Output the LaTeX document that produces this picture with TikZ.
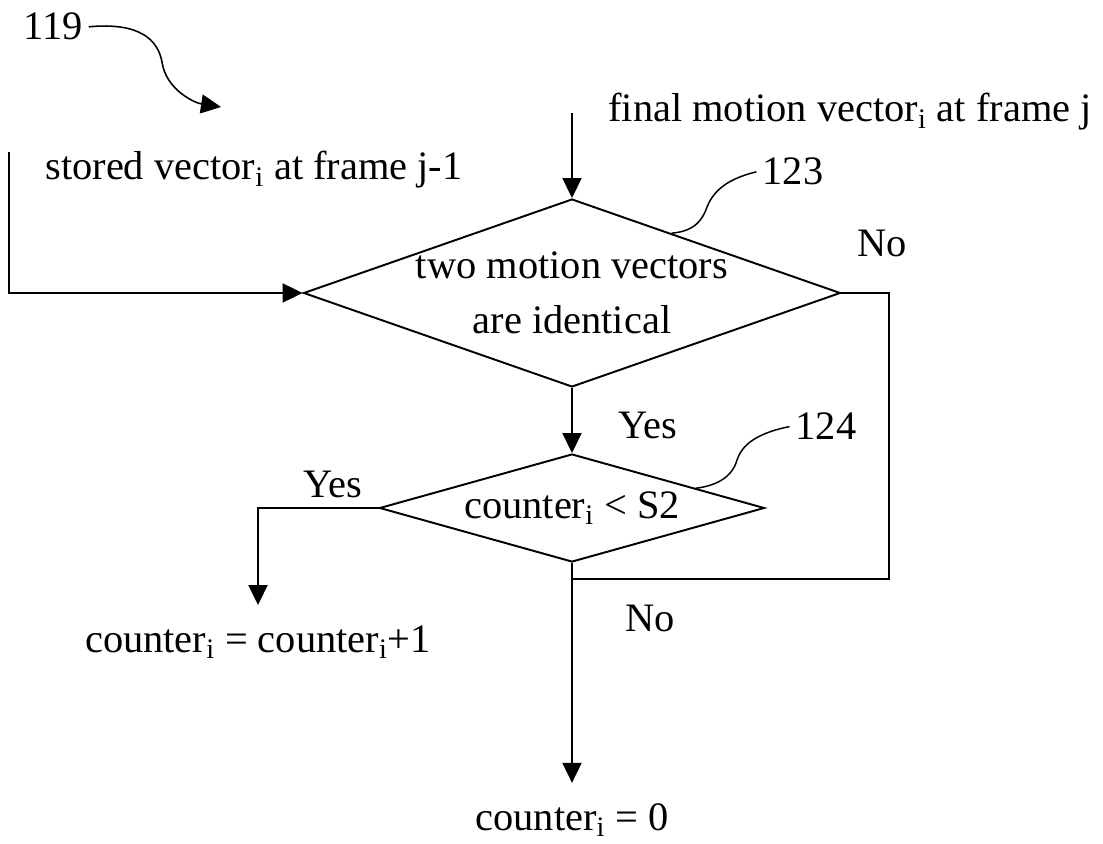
\documentclass[tikz,border=0pt]{standalone}
\usepackage{fontspec}
\setmainfont{Liberation Serif}
\usetikzlibrary{shapes.geometric,
                arrows.meta,
                calc,
                positioning}
\tikzset{decision/.style={draw,diamond,inner sep=0pt,line width=1.1pt},
         flow/.style={draw,line width=1.1pt,-{Triangle[length=0.4cm,width=0.38cm]}},
         link/.style={draw,line width=1.1pt},
         leader/.style={draw,line width=0.85pt},
         txt/.style={anchor=base}}

\begin{document}
\begin{tikzpicture}[x=0.02cm,y=-0.02cm,font=\fontsize{23}{31}\selectfont]
 \useasboundingbox (0,0) rectangle (1103,844);
 % decisions
 \node[decision,minimum width=10.74cm,minimum height=3.76cm,
       label={[align=center]center:two motion vectors\\are identical}] (same) at (572,293) {};
 \node[decision,minimum width=7.7cm,minimum height=2.16cm,
       label={center:counter\textsubscript{i} < S2}] (limit) at (572,508) {};
 % texts
 \node[txt] (final)  at (850,122) {final motion vector\textsubscript{i} at frame j};
 \node[txt] (stored) at (254,180) {stored vector\textsubscript{i} at frame j-1};
 \node[txt] (inc)    at (258,652) {counter\textsubscript{i} = counter\textsubscript{i}+1};
 \node[txt] (zero)   at (572,830) {counter\textsubscript{i} = 0};
 \node[txt] (ref119) at (53,40)   {119};
 \node[txt] (ref123) at (793,185) {123};
 \node[txt] (ref124) at (826,440) {124};
 \node[txt] (no1)  at (882,257) {No};
 \node[txt] (yes1) at (648,439) {Yes};
 \node[txt] (yes2) at (333,498) {Yes};
 \node[txt] (no2)  at (650,632) {No};
 % free ends
 \coordinate (finaltop)  at (572,113);
 \coordinate (storedtop) at (9,152);
 \coordinate (loop)      at (889,293);
 \coordinate (merge)     at (572,579);
 \coordinate (tip119)    at (221,107);
 % connectors
 \draw[flow] (finaltop) -- (same.north);
 \draw[flow] (storedtop) |- (same.west);
 \draw[flow] (same.south) -- (limit.north);
 \draw[link] (same.east) -- (loop) |- (merge);
 \draw[flow,shorten >=8pt] (limit.west) -| (inc.north);
 \draw[flow,shorten >=8pt] (limit.south) -- (zero.north);
 \draw[flow,line width=0.9pt] (ref119.east) .. controls (140,22) and (158,40) .. (162,62) .. controls (166,90) and (195,103) .. (tip119);
 \draw[leader] (ref123.west) .. controls (722,180) and (712,195) .. (707,207) .. controls (700,228) and (685,232) .. ($(same.north)!0.37!(same.east)$);
 \draw[leader] (ref124.west) .. controls (752,434) and (741,448) .. (737,460) .. controls (732,478) and (715,486) .. ($(limit.north)!0.64!(limit.east)$);
\end{tikzpicture}
\end{document}
